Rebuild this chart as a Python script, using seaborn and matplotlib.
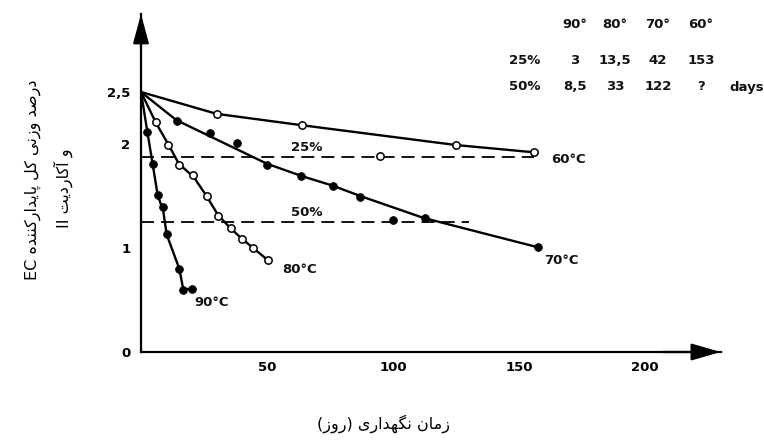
import numpy as np
import pandas as pd
import matplotlib
matplotlib.use("Agg")
import matplotlib.pyplot as plt
import seaborn as sns

# ---------------- data ----------------
# fitted curves
line60_x = [0, 30, 64, 125, 156]
line60_y = [2.5, 2.29, 2.18, 1.99, 1.92]
line70_x = [0, 14, 50, 64, 76, 87, 112, 157]
line70_y = [2.5, 2.23, 1.81, 1.69, 1.60, 1.50, 1.29, 1.01]
line80_x = [0, 6, 11, 15, 21, 26, 30.5, 35.5, 40, 44.5, 50.5]
line80_y = [2.5, 2.2, 1.99, 1.81, 1.68, 1.50, 1.32, 1.19, 1.09, 1.0, 0.88]
line90_x = [0, 2.5, 4.6, 6.6, 8.8, 10.2, 15.2, 16.8, 20.1]
line90_y = [2.5, 2.12, 1.81, 1.51, 1.36, 1.13, 0.80, 0.60, 0.61]

# measured points
pts60_x = [30, 64, 95, 125, 156]
pts60_y = [2.29, 2.18, 1.88, 1.99, 1.92]
pts70_x = [14.2, 27.4, 38, 50, 63.5, 76.3, 87, 100, 112.5, 157.7]
pts70_y = [2.22, 2.11, 2.01, 1.80, 1.69, 1.60, 1.49, 1.27, 1.29, 1.01]
pts80_x = [6, 10.8, 15.2, 20.8, 26.3, 30.4, 35.6, 40, 44.3, 50.5]
pts80_y = [2.21, 1.99, 1.80, 1.70, 1.50, 1.31, 1.19, 1.09, 1.00, 0.88]
pts90_x = [2.5, 4.6, 6.6, 8.8, 10.2, 15.2, 16.8, 20.1]
pts90_y = [2.12, 1.81, 1.51, 1.39, 1.13, 0.80, 0.60, 0.61]

# 25 % and 50 % loss levels
level_names = ["25%", "50%"]
level_y = [1.875, 1.25]
level_xend = [156, 130]

curve_labels = ["60°C", "70°C", "80°C", "90°C"]
curve_label_x = [169.5, 167, 63, 28]
curve_label_y = [1.85, 0.88, 0.79, 0.48]

table_head = ["90°", "80°", "70°", "60°"]
table_25 = ["3", "13,5", "42", "153"]
table_50 = ["8,5", "33", "122", "?"]

xticks = [50, 100, 150, 200]
yticks = [0, 1, 2, 2.5]
ytick_labels = ["0", "1", "2", "2,5"]

ylabel_line1 = "درصد وزنی کل پایدارکننده EC"
ylabel_line2 = "و آکاردیت II"
xlabel_text = "زمان نگهداری (روز)"

# ---------------- simple Persian shaping + bidi ----------------
FORMS = {
    "ا": ("\uFE8D", "\uFE8E", None, None),
    "آ": ("\uFE81", "\uFE82", None, None),
    "د": ("\uFEA9", "\uFEAA", None, None),
    "ر": ("\uFEAD", "\uFEAE", None, None),
    "ز": ("\uFEAF", "\uFEB0", None, None),
    "و": ("\uFEED", "\uFEEE", None, None),
    "ص": ("\uFEB9", "\uFEBA", "\uFEBB", "\uFEBC"),
    "ن": ("\uFEE5", "\uFEE6", "\uFEE7", "\uFEE8"),
    "ی": ("\uFBFC", "\uFBFD", "\uFBFE", "\uFBFF"),
    "ک": ("\uFB8E", "\uFB8F", "\uFB90", "\uFB91"),
    "ل": ("\uFEDD", "\uFEDE", "\uFEDF", "\uFEE0"),
    "پ": ("\uFB56", "\uFB57", "\uFB58", "\uFB59"),
    "ه": ("\uFEE9", "\uFEEA", "\uFEEB", "\uFEEC"),
    "گ": ("\uFB92", "\uFB93", "\uFB94", "\uFB95"),
    "ت": ("\uFE95", "\uFE96", "\uFE97", "\uFE98"),
    "م": ("\uFEE1", "\uFEE2", "\uFEE3", "\uFEE4"),
}
MIRROR = {"(": ")", ")": "("}


def shape_word(w):
    out = []
    for i, c in enumerate(w):
        if c not in FORMS:
            out.append(MIRROR.get(c, c))
            continue
        prev = w[i - 1] if i > 0 else None
        nxt = w[i + 1] if i + 1 < len(w) else None
        pj = prev in FORMS and FORMS[prev][2] is not None
        nj = FORMS[c][2] is not None and nxt in FORMS
        iso, fin, ini, med = FORMS[c]
        out.append(med if (pj and nj) else fin if pj else ini if nj else iso)
    return "".join(reversed(out))


def rtl(text):
    toks = text.split(" ")
    vis = []
    for t in reversed(toks):
        if any(ch in FORMS for ch in t):
            vis.append(shape_word(t))
        else:
            vis.append(t)
    return " ".join(vis)


# ---------------- figure ----------------
sns.set_style("white")
plt.rcParams["font.family"] = ["DejaVu Sans"]

W, H = 764, 443
fig = plt.figure(figsize=(W / 100, H / 100), dpi=100)
x0, x1 = 141, 720.6
y_bottom, y_top = 352, 14
ax = fig.add_axes([x0 / W, (H - y_bottom) / H, (x1 - x0) / W, (y_bottom - y_top) / H])
ax.set_xlim(0, 230)
ax.set_ylim(0, 3.25)

LW = 1.7
for lx, ly in [(line60_x, line60_y), (line70_x, line70_y),
               (line80_x, line80_y), (line90_x, line90_y)]:
    sns.lineplot(x=lx, y=ly, ax=ax, color="black", lw=LW, estimator=None,
                 sort=False, legend=False)

for name, yv, xe in zip(level_names, level_y, level_xend):
    sns.lineplot(x=[0, xe], y=[yv, yv], ax=ax, color="black", lw=1.3,
                 estimator=None, sort=False, legend=False, dashes=False)
    ax.lines[-1].set_dashes((7.2, 3.9))

for px, py in [(pts60_x, pts60_y), (pts80_x, pts80_y)]:
    sns.scatterplot(x=px, y=py, ax=ax, marker="o", s=28, facecolor="white",
                    edgecolor="black", linewidth=1.1, zorder=5, legend=False)
for px, py in [(pts70_x, pts70_y), (pts90_x, pts90_y)]:
    sns.scatterplot(x=px, y=py, ax=ax, marker="o", s=32, color="black",
                    edgecolor="black", linewidth=0.5, zorder=5, legend=False)

tfont = dict(fontsize=9.5, fontweight="bold", color="#111111")
ax.text(65.8, level_y[0] + 0.03, level_names[0], ha="center", va="bottom", **tfont)
ax.text(65.8, level_y[1] + 0.03, level_names[1], ha="center", va="bottom", **tfont)
for lab, lx, ly in zip(curve_labels, curve_label_x, curve_label_y):
    ax.text(lx, ly, lab, ha="center", va="center", **tfont)

# axes styling
for s in ["top", "right"]:
    ax.spines[s].set_visible(False)
for s in ["left", "bottom"]:
    ax.spines[s].set_linewidth(1.6)
    ax.spines[s].set_color("black")
ax.set_xticks(xticks)
ax.set_xticklabels([str(t) for t in xticks])
ax.set_yticks(yticks)
ax.set_yticklabels(ytick_labels)
ax.tick_params(axis="both", direction="inout", length=7, width=1.2,
               labelsize=9.5, colors="black")
ax.tick_params(axis="x", pad=3)
ax.tick_params(axis="y", pad=4)
for lab in ax.get_xticklabels() + ax.get_yticklabels():
    lab.set_fontweight("bold")

# arrow heads
ax.annotate("", xy=(0, 1), xytext=(0, 0.9), xycoords="axes fraction",
            arrowprops=dict(arrowstyle="-|>,head_length=1.0,head_width=0.27",
                            mutation_scale=18, color="black", lw=1.6,
                            shrinkA=0, shrinkB=0), annotation_clip=False)
ax.annotate("", xy=(1, 0), xytext=(0.9, 0), xycoords="axes fraction",
            arrowprops=dict(arrowstyle="-|>,head_length=1.0,head_width=0.29",
                            mutation_scale=18, color="black", lw=1.6,
                            shrinkA=0, shrinkB=0), annotation_clip=False)

# table in top right
cols_x = [575, 615, 658, 701]
rows_y = [25, 60, 87]
for cx, t in zip(cols_x, table_head):
    fig.text(cx / W, 1 - rows_y[0] / H, t, ha="center", va="center", **tfont)
fig.text(525 / W, 1 - rows_y[1] / H, "25%", ha="center", va="center", **tfont)
fig.text(525 / W, 1 - rows_y[2] / H, "50%", ha="center", va="center", **tfont)
for cx, t in zip(cols_x, table_25):
    fig.text(cx / W, 1 - rows_y[1] / H, t, ha="center", va="center", **tfont)
for cx, t in zip(cols_x, table_50):
    fig.text(cx / W, 1 - rows_y[2] / H, t, ha="center", va="center", **tfont)
fig.text(747 / W, 1 - rows_y[2] / H, "days", ha="center", va="center", **tfont)

# Persian axis titles
lfont = dict(fontsize=11.5, color="black")
fig.text(33 / W, 1 - 180 / H, rtl(ylabel_line1), rotation=90, ha="center",
         va="center", **lfont)
fig.text(63 / W, 1 - 188 / H, rtl(ylabel_line2), rotation=90, ha="center",
         va="center", **lfont)
fig.text(383 / W, 1 - 424 / H, rtl(xlabel_text), ha="center", va="center", **lfont)

fig.savefig("out.png", dpi=100)
